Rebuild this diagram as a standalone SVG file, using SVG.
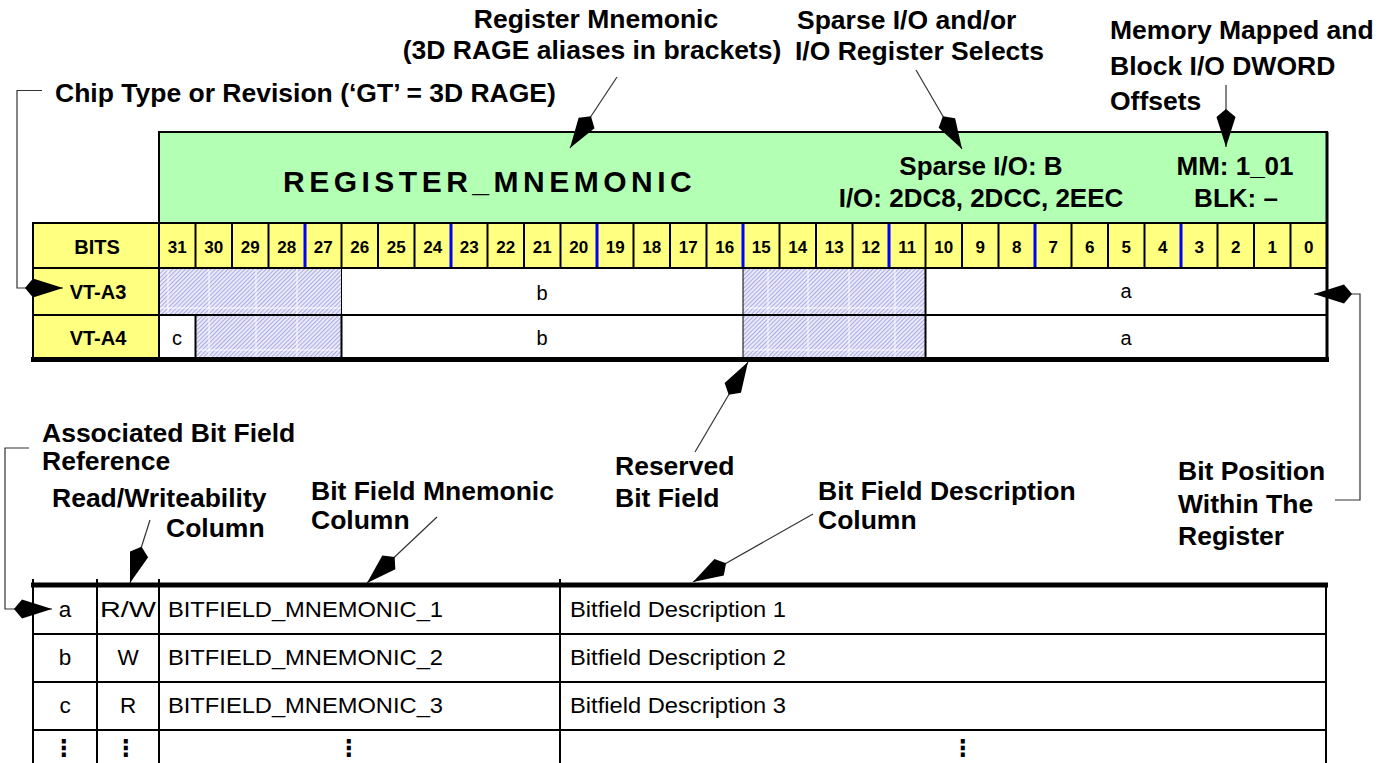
<svg xmlns="http://www.w3.org/2000/svg" width="1391" height="763" viewBox="0 0 1391 763">
<defs>
<style>
.lbl{font-family:"Liberation Sans",Arial,sans-serif;font-weight:bold;font-size:26.5px;fill:#000}
.hdr{font-family:"Liberation Sans",Arial,sans-serif;font-weight:bold;font-size:26px;text-anchor:middle;fill:#000}
.reg{font-family:"Liberation Sans",Arial,sans-serif;font-weight:bold;font-size:30px;letter-spacing:4.5px;fill:#000}
.num{font-family:"Liberation Sans",Arial,sans-serif;font-weight:bold;font-size:17px;text-anchor:middle;fill:#000}
.cap{font-family:"Liberation Sans",Arial,sans-serif;font-weight:bold;font-size:20px;text-anchor:middle;fill:#000}
.cell{font-family:"Liberation Sans",Arial,sans-serif;font-size:20px;text-anchor:middle;fill:#000}
.tbl{font-family:"Liberation Sans",Arial,sans-serif;font-size:22.5px;fill:#000}
.mid{text-anchor:middle}
.dots{font-family:"DejaVu Sans",sans-serif;font-weight:bold;font-size:23px;text-anchor:middle;fill:#000}
.grid{stroke:#000;stroke-width:2;fill:none}
.thin{stroke:#000;stroke-width:1;fill:none}
.blue{stroke:#0000ff;stroke-width:3;fill:none}
.tick{stroke:#fff;stroke-width:1;fill:none;opacity:0.9}
.conn{stroke:#333;stroke-width:1.2;fill:none}
.kite{marker-end:url(#kite)}
</style>
<marker id="kite" viewBox="0 0 40 22" refX="38" refY="11" markerWidth="40" markerHeight="22" markerUnits="userSpaceOnUse" orient="auto">
<path d="M38,11 L8,1.5 L0,11 L8,20.5 Z" fill="#000"/>
</marker>
<pattern id="hatch" patternUnits="userSpaceOnUse" width="3" height="3" patternTransform="rotate(45)">
<rect width="3" height="3" fill="#ececfb"/>
<rect width="1.1" height="3" fill="#acace2"/>
</pattern>
</defs>

<rect width="1391" height="763" fill="#fff"/>

<!-- register header -->
<g id="header">
<rect x="159" y="132" width="1168" height="91" fill="#b3ffb3" stroke="#000" stroke-width="2"/>
<text class="reg" x="283" y="192">REGISTER_MNEMONIC</text>
<text class="hdr" x="981" y="175">Sparse I/O: B</text>
<text class="hdr" x="981" y="207">I/O: 2DC8, 2DCC, 2EEC</text>
<text class="hdr" x="1235" y="175">MM: 1_01</text>
<text class="hdr" x="1236" y="207">BLK: –</text>
</g>

<!-- bit number row -->
<g id="bits-row">
<rect x="33" y="223" width="1294" height="45" fill="#ffff80" stroke="#000" stroke-width="2"/>
<path class="grid" d="M159,223V268 M195.5,223V268 M232,223V268 M268.5,223V268 M341.5,223V268 M378,223V268 M414.5,223V268 M487.5,223V268 M524,223V268 M560.5,223V268 M633.5,223V268 M670,223V268 M706.5,223V268 M779.5,223V268 M816,223V268 M852.5,223V268 M925.5,223V268 M962,223V268 M998.5,223V268 M1071.5,223V268 M1108,223V268 M1144.5,223V268 M1217.5,223V268 M1254,223V268 M1290.5,223V268"/>
<path class="blue" d="M305,224V267 M451,224V267 M597,224V267 M743,224V267 M889,224V267 M1035,224V267 M1181,224V267"/>
<text class="cap" x="97" y="254">BITS</text>
<text class="num" x="177.25" y="253">31</text>
<text class="num" x="213.75" y="253">30</text>
<text class="num" x="250.25" y="253">29</text>
<text class="num" x="286.75" y="253">28</text>
<text class="num" x="323.25" y="253">27</text>
<text class="num" x="359.75" y="253">26</text>
<text class="num" x="396.25" y="253">25</text>
<text class="num" x="432.75" y="253">24</text>
<text class="num" x="469.25" y="253">23</text>
<text class="num" x="505.75" y="253">22</text>
<text class="num" x="542.25" y="253">21</text>
<text class="num" x="578.75" y="253">20</text>
<text class="num" x="615.25" y="253">19</text>
<text class="num" x="651.75" y="253">18</text>
<text class="num" x="688.25" y="253">17</text>
<text class="num" x="724.75" y="253">16</text>
<text class="num" x="761.25" y="253">15</text>
<text class="num" x="797.75" y="253">14</text>
<text class="num" x="834.25" y="253">13</text>
<text class="num" x="870.75" y="253">12</text>
<text class="num" x="907.25" y="253">11</text>
<text class="num" x="943.75" y="253">10</text>
<text class="num" x="980.25" y="253">9</text>
<text class="num" x="1016.75" y="253">8</text>
<text class="num" x="1053.25" y="253">7</text>
<text class="num" x="1089.75" y="253">6</text>
<text class="num" x="1126.25" y="253">5</text>
<text class="num" x="1162.75" y="253">4</text>
<text class="num" x="1199.25" y="253">3</text>
<text class="num" x="1235.75" y="253">2</text>
<text class="num" x="1272.25" y="253">1</text>
<text class="num" x="1308.75" y="253">0</text>
</g>

<!-- revision rows -->
<g id="row-vt-a3">
<rect x="33" y="268" width="126" height="47" fill="#ffff80"/>
<rect x="159" y="268" width="1168" height="47" fill="#fff"/>
<rect x="159" y="268" width="182.5" height="47" fill="url(#hatch)"/>
<rect x="743" y="268" width="182.5" height="47" fill="url(#hatch)"/>
<path class="tick" d="M168,269V314 M209,269V314 M256,269V314 M297,269V314 M160,308H341 M768,269V314 M808,269V314 M849,269V314 M895,269V314 M743,308H925"/>
<text class="cap" x="98" y="299">VT-A3</text>
<text class="cell" x="542" y="300">b</text>
<text class="cell" x="1126" y="298">a</text>
</g>

<g id="row-vt-a4">
<rect x="33" y="315" width="126" height="44" fill="#ffff80"/>
<rect x="159" y="315" width="1168" height="44" fill="#fff"/>
<rect x="195.5" y="315" width="146" height="44" fill="url(#hatch)"/>
<rect x="743" y="315" width="182.5" height="44" fill="url(#hatch)"/>
<path class="tick" d="M209,316V357 M256,316V357 M297,316V357 M196,350H341 M768,316V357 M808,316V357 M849,316V357 M895,316V357 M743,350H925"/>
<text class="cap" x="98" y="345">VT-A4</text>
<text class="cell" x="177" y="345">c</text>
<text class="cell" x="542" y="345">b</text>
<text class="cell" x="1126" y="345">a</text>
</g>

<!-- register grid lines -->
<g id="register-grid">
<path class="grid" d="M33,268H1327 M33,315H1327 M33,223V359 M159,223V359 M195.5,315V359 M341.5,315V359 M925.5,268V359"/>
<path class="thin" d="M341.5,268V315 M743,268V359"/>
<path d="M1327,132V359" stroke="#000" stroke-width="3"/>
<path d="M31,359.5H1329" stroke="#000" stroke-width="5"/>
</g>

<!-- bit field table -->
<g id="field-table">
<path d="M31,585H1328" stroke="#000" stroke-width="5"/>
<path class="grid" d="M33,579V763 M97,579V763 M159,579V763 M560,579V763 M1326,585V763 M33,634H1326 M33,682H1326 M33,730H1326"/>
<text class="tbl mid" x="65" y="617">a</text>
<text class="tbl mid" x="128" y="617" textLength="56" lengthAdjust="spacingAndGlyphs">R/W</text>
<text class="tbl" x="168" y="617" textLength="275" lengthAdjust="spacingAndGlyphs">BITFIELD_MNEMONIC_1</text>
<text class="tbl" x="570" y="617" textLength="216" lengthAdjust="spacingAndGlyphs">Bitfield Description 1</text>
<text class="tbl mid" x="65" y="665">b</text>
<text class="tbl mid" x="128" y="665">W</text>
<text class="tbl" x="168" y="665" textLength="275" lengthAdjust="spacingAndGlyphs">BITFIELD_MNEMONIC_2</text>
<text class="tbl" x="570" y="665" textLength="216" lengthAdjust="spacingAndGlyphs">Bitfield Description 2</text>
<text class="tbl mid" x="65" y="713">c</text>
<text class="tbl mid" x="128" y="713">R</text>
<text class="tbl" x="168" y="713" textLength="275" lengthAdjust="spacingAndGlyphs">BITFIELD_MNEMONIC_3</text>
<text class="tbl" x="570" y="713" textLength="216" lengthAdjust="spacingAndGlyphs">Bitfield Description 3</text>
<text class="dots" x="64" y="756">⋮</text>
<text class="dots" x="126" y="756">⋮</text>
<text class="dots" x="349" y="756">⋮</text>
<text class="dots" x="963" y="756">⋮</text>
</g>

<!-- callout labels -->
<g id="label-register-mnemonic">
<text class="lbl mid" x="596" y="28">Register Mnemonic</text>
<text class="lbl mid" x="592" y="59">(3D RAGE aliases in brackets)</text>
</g>
<g id="label-sparse-io">
<text class="lbl" x="797" y="29">Sparse I/O and/or</text>
<text class="lbl" x="795" y="60">I/O Register Selects</text>
</g>
<g id="label-memory-mapped">
<text class="lbl" x="1110" y="39">Memory Mapped and</text>
<text class="lbl" x="1110" y="75">Block I/O DWORD</text>
<text class="lbl" x="1110" y="110">Offsets</text>
</g>
<g id="label-chip-type">
<text class="lbl" x="55" y="102">Chip Type or Revision (‘GT’ = 3D RAGE)</text>
</g>
<g id="label-associated">
<text class="lbl" x="42" y="442">Associated Bit Field</text>
<text class="lbl" x="42" y="470">Reference</text>
</g>
<g id="label-rw">
<text class="lbl" x="52" y="507">Read/Writeability</text>
<text class="lbl" x="166" y="537">Column</text>
</g>
<g id="label-mnemonic-col">
<text class="lbl" x="311" y="500">Bit Field Mnemonic</text>
<text class="lbl" x="311" y="529">Column</text>
</g>
<g id="label-reserved">
<text class="lbl" x="615" y="475">Reserved</text>
<text class="lbl" x="615" y="507">Bit Field</text>
</g>
<g id="label-description-col">
<text class="lbl" x="818" y="500">Bit Field Description</text>
<text class="lbl" x="818" y="529">Column</text>
</g>
<g id="label-bit-position">
<text class="lbl" x="1178" y="480">Bit Position</text>
<text class="lbl" x="1178" y="513">Within The</text>
<text class="lbl" x="1178" y="545">Register</text>
</g>

<!-- connectors -->
<g id="connectors">
<path class="conn kite" d="M42,90.5H17V288H63"/>
<path class="conn kite" d="M617,77L570,148"/>
<path class="conn kite" d="M916,70L962,149"/>
<path class="conn kite" d="M1226,85V147"/>
<path class="conn kite" d="M1335,500H1360V294H1314"/>
<path class="conn kite" d="M695,452L748,362"/>
<path class="conn kite" d="M29,448H5V609H52"/>
<path class="conn kite" d="M150,520L130,583"/>
<path class="conn kite" d="M437,517L367,583"/>
<path class="conn kite" d="M813,514L693,582"/>
</g>
</svg>
